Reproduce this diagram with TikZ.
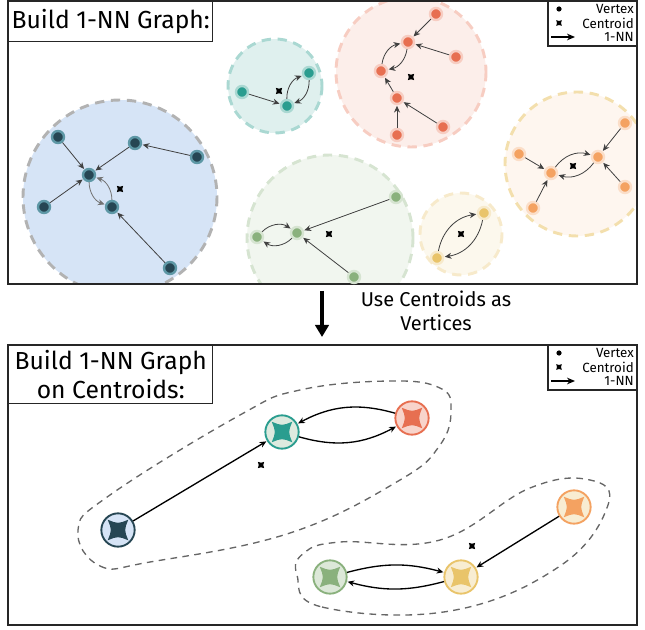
\documentclass[tikz,border=0pt]{standalone}
\usepackage{fontspec}
\setmainfont{Fira Sans}
\usetikzlibrary{arrows.meta,calc,positioning}

\definecolor{cblue}{HTML}{264653}
\definecolor{cblueh}{HTML}{5E98A6}
\definecolor{cteal}{HTML}{2A9D8F}
\definecolor{cred}{HTML}{E76F51}
\definecolor{corange}{HTML}{F4A261}
\definecolor{cyel}{HTML}{E9C46A}
\definecolor{cgreen}{HTML}{8AB17D}
\definecolor{bgblue}{HTML}{D6E4F6}

\tikzset{
  vtx/.style={circle, inner sep=0pt, minimum size=9pt, line width=1.8pt},
  vblue/.style={vtx, fill=cblue, draw=cblueh},
  vteal/.style={vtx, fill=cteal, draw=cteal!40},
  vred/.style={vtx, fill=cred, draw=cred!35},
  vorange/.style={vtx, fill=corange, draw=corange!35},
  vgreen/.style={vtx, fill=cgreen, draw=cgreen!35},
  vyel/.style={vtx, fill=cyel, draw=cyel!35},
  nn/.style={-{Stealth[length=5pt,width=4.5pt]}, draw=black!75, line width=0.6pt, shorten >=0.5pt},
  hull/.style={dashed, line width=2.2pt, dash pattern=on 7pt off 5pt},
  bigv/.style={circle, inner sep=0pt, minimum size=25pt, line width=1.4pt},
  panel/.style={draw=black!85, line width=1.1pt},
  titlebox/.style={panel, fill=white, inner sep=0pt, align=center, font=\fontsize{18.5}{22}\selectfont},
  leg/.style={font=\fontsize{10}{11}\selectfont, anchor=east, inner sep=0pt},
  hullline/.style={dashed, draw=black!60, line width=1pt, dash pattern=on 5pt off 4pt}
}
% four-pointed star
\newcommand{\cstar}[3]{%
  \fill[#3, shift={(#1)}, rotate=45, scale=#2]
    (1,0) .. controls (0.3,0.3) .. (0,1) .. controls (-0.3,0.3) .. (-1,0)
    .. controls (-0.3,-0.3) .. (0,-1) .. controls (0.3,-0.3) .. (1,0) -- cycle;}

\begin{document}
\begin{tikzpicture}[x=0.75pt,y=-0.75pt]
  \useasboundingbox (0,0) rectangle (645,630);

  % ---------- top panel ----------
  \coordinate (P1a) at (8,1);
  \coordinate (P1b) at (637,284);
  \begin{scope}
    \clip (P1a) rectangle (P1b);
    \fill[bgblue] (120,197) circle (97);
    \draw[hull, draw=black!30] (120,197) circle (97);
    \fill[cteal!15] (275,86) circle (47);
    \draw[hull, draw=cteal!40] (275,86) circle (47);
    \fill[cred!12] (411,72) circle (75);
    \draw[hull, draw=cred!35] (411,72) circle (75);
    \fill[corange!10] (577,164) circle (72);
    \draw[hull, draw=cyel!55] (577,164) circle (72);
    \fill[cgreen!12] (330,238) circle (83);
    \draw[hull, draw=cgreen!35] (330,238) circle (83);
    \fill[cyel!12] (461,234) circle (41);
    \draw[hull, draw=cyel!35] (461,234) circle (41);
  \end{scope}
  \draw[panel] (P1a) rectangle (P1b);

  % blue cluster
  \node[vblue] (b1) at (58,137) {};
  \node[vblue] (b2) at (135,143) {};
  \node[vblue] (b3) at (197,157) {};
  \node[vblue] (b4) at (89,175) {};
  \node[vblue] (b5) at (44,207) {};
  \node[vblue] (b6) at (112,207) {};
  \node[vblue] (b7) at (170,268) {};
  \cstar{120,189}{4.5}{black}
  \draw[nn] (b1) -- (b4);
  \draw[nn] (b2) -- (b4);
  \draw[nn] (b3) -- (b2);
  \draw[nn] (b5) -- (b4);
  \draw[nn] (b7) -- (b6);
  \draw[nn, draw=black!55] (b4) to[bend right=35] (b6);
  \draw[nn, draw=black!55] (b6) to[bend right=35] (b4);

  % teal cluster
  \node[vteal] (t1) at (242,92) {};
  \node[vteal] (t2) at (287,106) {};
  \node[vteal] (t3) at (309,73) {};
  \cstar{279,91}{4.5}{black}
  \draw[nn] (t1) -- (t2);
  \draw[nn] (t2) to[bend left=35] (t3);
  \draw[nn] (t3) to[bend left=35] (t2);

  % red cluster
  \node[vred] (r1) at (436,14) {};
  \node[vred] (r2) at (408,42) {};
  \node[vred] (r3) at (456,57) {};
  \node[vred] (r4) at (381,71) {};
  \node[vred] (r5) at (397,98) {};
  \node[vred] (r6) at (443,127) {};
  \node[vred] (r7) at (397,135) {};
  \cstar{411,77}{4.5}{black}
  \draw[nn] (r1) -- (r2);
  \draw[nn] (r3) -- (r2);
  \draw[nn] (r2) to[bend left=35] (r4);
  \draw[nn] (r4) to[bend left=35] (r2);
  \draw[nn] (r5) -- (r4);
  \draw[nn] (r6) -- (r5);
  \draw[nn] (r7) -- (r5);

  % orange cluster
  \node[vorange] (o1) at (625,123) {};
  \node[vorange] (o2) at (519,154) {};
  \node[vorange] (o3) at (598,157) {};
  \node[vorange] (o4) at (551,173) {};
  \node[vorange] (o5) at (625,187) {};
  \node[vorange] (o6) at (533,208) {};
  \cstar{573,166}{4.5}{black}
  \draw[nn] (o1) -- (o3);
  \draw[nn] (o5) -- (o3);
  \draw[nn] (o2) -- (o4);
  \draw[nn] (o6) -- (o4);
  \draw[nn] (o4) to[bend left=35] (o3);
  \draw[nn] (o3) to[bend left=35] (o4);

  % green cluster
  \node[vgreen] (g1) at (396,197) {};
  \node[vgreen] (g2) at (257,237) {};
  \node[vgreen] (g3) at (297,233) {};
  \node[vgreen] (g4) at (354,277) {};
  \cstar{329,234}{4.5}{black}
  \draw[nn] (g1) -- (g3);
  \draw[nn] (g4) -- (g3);
  \draw[nn] (g2) to[bend left=40] (g3);
  \draw[nn] (g3) to[bend left=40] (g2);

  % yellow cluster
  \node[vyel] (y1) at (484,213) {};
  \node[vyel] (y2) at (437,258) {};
  \cstar{461,234}{4.5}{black}
  \draw[nn] (y2) to[bend left=35] (y1);
  \draw[nn] (y1) to[bend left=35] (y2);

  \node[titlebox, anchor=north west, minimum width=204*0.75pt, minimum height=40*0.75pt] (title1) at (P1a) {Build 1-NN Graph:};

  % legend top
  \draw[panel, fill=white, line width=0.8pt] (548,1) rectangle (637,46);
  \fill (559,9) circle (2.6);
  \cstar{559,23}{4}{black}
  \node[leg] (lv1) at (634,9) {Vertex};
  \node[leg] (lc1) at (634,23) {Centroid};
  \node[leg] (ln1) at (634,37) {1-NN};
  \draw[-{Stealth[length=6pt,width=5pt]}, line width=0.9pt] (551,37) -- (575,37);

  % ---------- transition ----------
  \coordinate (A1) at (322,291);
  \coordinate (A2) at (322,337);
  \draw[-{Triangle[length=9pt,width=10pt]}, line width=2.6pt] (A1) -- (A2);
  \node[font=\fontsize{15}{18}\selectfont, align=center] (step) at (436,311) {Use Centroids as\\Vertices};

  % ---------- bottom panel ----------
  \coordinate (P2a) at (8,345);
  \coordinate (P2b) at (637,625);
  \draw[panel] (P2a) rectangle (P2b);

  % hulls
  \draw[hullline] plot[smooth cycle, tension=0.7] coordinates {
    (78,530) (100,566) (150,562) (290,533) (400,480) (440,445) (451,410)
    (440,388) (390,381) (300,390) (240,415) (110,495)};
  \draw[hullline] plot[smooth cycle, tension=0.7] coordinates {
    (297,575) (322,607) (450,611) (560,566) (608,505) (590,480)
    (530,488) (440,540) (340,542) (304,553)};

  \node[bigv, fill=bgblue, draw=cblue] (B) at (118,530) {};
  \node[bigv, fill=cteal!20!cgreen!25, draw=cteal] (T) at (282,432) {};
  \node[bigv, fill=cred!30, draw=cred] (R) at (412,418) {};
  \node[bigv, fill=cyel!30, draw=corange] (O) at (574,507) {};
  \node[bigv, fill=cyel!30, draw=cyel] (Y) at (461,577) {};
  \node[bigv, fill=cgreen!30, draw=cgreen] (G) at (330,577) {};
  \cstar{B}{14.5}{cblue}
  \cstar{T}{14.5}{cteal}
  \cstar{R}{14.5}{cred}
  \cstar{O}{14.5}{corange}
  \cstar{Y}{14.5}{cyel}
  \cstar{G}{14.5}{cgreen}
  \cstar{261,465}{4.5}{black}
  \cstar{472,546}{4.5}{black}

  \draw[nn, draw=black, line width=1pt] (B) -- (T);
  \draw[nn, draw=black, line width=1pt] (T) to[bend right=22] (R);
  \draw[nn, draw=black, line width=1pt] (R) to[bend right=22] (T);
  \draw[nn, draw=black, line width=1pt] (O) -- (Y);
  \draw[nn, draw=black, line width=1pt] (G) to[bend left=15] (Y);
  \draw[nn, draw=black, line width=1pt] (Y) to[bend left=15] (G);

  \node[titlebox, anchor=north west, minimum width=204*0.75pt, minimum height=58*0.75pt] (title2) at (P2a) {Build 1-NN Graph\\on Centroids:};

  % legend bottom
  \draw[panel, fill=white, line width=0.8pt] (548,345) rectangle (637,390);
  \fill (559,353) circle (2.6);
  \cstar{559,367}{4}{black}
  \node[leg] (lv2) at (634,353) {Vertex};
  \node[leg] (lc2) at (634,367) {Centroid};
  \node[leg] (ln2) at (634,381) {1-NN};
  \draw[-{Stealth[length=6pt,width=5pt]}, line width=0.9pt] (551,381) -- (575,381);
\end{tikzpicture}
\end{document}
